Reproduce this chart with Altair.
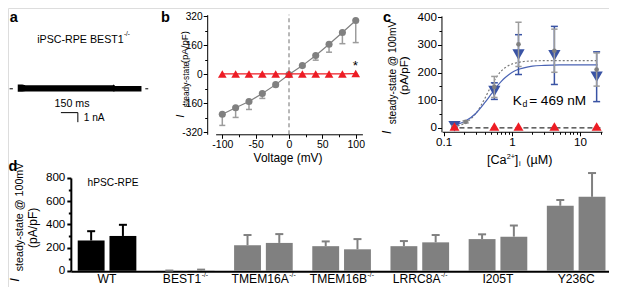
import math
import altair as alt
import pandas as pd

# ---------------- data ----------------
# a: current trace of iPSC-RPE BEST1-/- (envelope of the overlaid sweeps, nA)
a_time_ms = [0, 40, 70, 840, 850, 862, 1095]
a_upper_nA = [0.44, 0.44, 0.38, 0.38, 0.46, 0.28, 0.28]
a_lower_nA = [-0.30, -0.30, -0.28, -0.28, -0.32, -0.28, -0.28]
a_zero_start_ms = [-72, 1129]
a_zero_end_ms = [-43, 1155]
a_scalebar_ms = [382, 532, 532]
a_scalebar_nA = [-2.5, -2.5, -3.5]

# b: I-V relation (pA/pF)
b_voltage = [-100, -80, -60, -40, -20, 0, 20, 40, 60, 80, 100]
b_wt = [-219, -184, -149, -105, -56, 0, 49, 105, 167, 232, 298]
b_wt_err_end = [-281, -237, -193, -132, -62, 0, 42, 79, 123, 170, 176]
b_ko = [3, 3, 3, 3, 3, 3, 3, 3, 3, 3, 5]
b_x_ticks = [-100, -50, 0, 50, 100]
b_x_minor = [-75, -25, 25, 75]
b_y_ticks = [-320, -160, 0, 160, 320]
b_y_minor = [-240, -80, 80, 240]

# c: Ca2+ dependence (pA/pF)
c_ca = [0.144, 0.553, 1.25, 4.2, 17.5]
c_blue = [6, 133, 265, 262, 185]
c_blue_err = [4, 30, 72, 105, 90]
c_gray_ca = [0.144, 0.21, 0.553, 1.25, 4.2, 17.5]
c_gray = [5, 22, 148, 302, 279, 211]
c_gray_err = [3, 4, 38, 80, 78, 60]
c_red = [5, 5, 5, 5, 5]
c_fit_ca = [0.14, 0.2, 0.3, 0.4, 0.5, 0.6, 0.7, 0.8, 1.0, 1.2, 1.5, 2, 3, 5, 10, 18]
c_fit_blue = [9, 22, 54, 91, 123, 149, 168, 182, 200, 210, 217, 223, 226, 228, 228, 228]
c_fit_gray = [5, 16, 54, 106, 153, 185, 206, 218, 231, 236, 240, 242, 243, 243, 243, 243]
c_zero_ca = [0.13, 20]
c_zero_val = [0, 0]
c_x_ticks = [0.1, 1, 10]
c_x_minor = [0.2, 0.3, 0.4, 0.5, 0.6, 0.7, 0.8, 0.9, 2, 3, 4, 5, 6, 7, 8, 9, 20]
c_y_ticks = [0, 100, 200, 300, 400]
c_y_minor = [50, 150, 250, 350]

# d: steady-state current at 100 mV (two lines per genotype)
d_groups = ["WT", "BEST1", "TMEM16A", "TMEM16B", "LRRC8A", "I205T", "Y236C"]
d_sup = ["", "-/-", "-/-", "-/-", "-/-", "", ""]
d_val1 = [261, 1, 220, 212, 212, 273, 560]
d_up1 = [341, 2, 308, 253, 256, 314, 610]
d_val2 = [300, 2, 240, 185, 245, 294, 637]
d_up2 = [396, 10, 316, 273, 308, 390, 842]
d_y_ticks = [0, 200, 400, 600, 800]
d_y_minor = [100, 300, 500, 700]

# ---------------- layout helpers ----------------
W, H = 601, 279
SX = W / 617.0
SY = H / 292.5
FS = 0.97
FONT = "Liberation Sans"
GRAY = "#808080"
GRAY_ERR = "#9c9c9c"
RED = "#ed1c24"
BLUE = "#3953a4"
BLUE_FIT = "#4a63b4"
CAP = "M-1,0L1,0"
ONE = pd.DataFrame({"k": [0]})


def X(r):
    return round(r * SX, 2)


def Y(r):
    return round((r - 2.0) * SY, 2)


def txt(s, x, y, size, align="left", baseline="alphabetic", angle=0,
        style="normal", weight="normal", color="black"):
    kw = dict(text=s, font=FONT, fontSize=round(size * FS, 2), align=align,
              baseline=baseline, fontStyle=style, fontWeight=weight, color=color)
    if angle:
        kw["angle"] = angle
    return alt.Chart(ONE).mark_text(**kw).encode(x=alt.value(X(x)), y=alt.value(Y(y)))


def axis(orient, offset, values, size, **kw):
    base = dict(orient=orient, offset=offset, values=values, grid=False, title=None,
                domainColor="black", tickColor="black", labelColor="black",
                labelFont=FONT, labelFontSize=round(size * FS, 2), labelFlush=False,
                labelOverlap=False, labelExpr="datum.value + ''", tickSize=4,
                tickWidth=1, domainWidth=1, labelPadding=1)
    base.update(kw)
    return alt.Axis(**base)


def minor(orient, offset, values, size=2.5, width=1):
    return alt.Axis(orient=orient, offset=offset, values=values, grid=False, title=None,
                    labels=False, domain=False, tickColor="black", tickSize=size,
                    tickWidth=width)


# ---------------- panel a ----------------
a_ppms = 17.4 / 150.0
a_xs = alt.Scale(domain=[-100, 1200], range=[X(10 - 100 * a_ppms), X(10 + 1200 * a_ppms)])
a_ys = alt.Scale(domain=[-5, 5], range=[Y(86.7 + 50), Y(86.7 - 50)])

a_band = alt.Chart(pd.DataFrame({"t": a_time_ms, "hi": a_upper_nA, "lo": a_lower_nA})).mark_area(
    color="black", opacity=1).encode(
    x=alt.X("t:Q", scale=a_xs, axis=None),
    y=alt.Y("hi:Q", scale=a_ys, axis=None),
    y2="lo:Q")
a_zero = alt.Chart(pd.DataFrame({"t0": a_zero_start_ms, "t1": a_zero_end_ms, "i": [0, 0]})).mark_rule(
    color="black", strokeWidth=1).encode(
    x=alt.X("t0:Q", scale=a_xs, axis=None), x2="t1:Q",
    y=alt.Y("i:Q", scale=a_ys, axis=None))
a_bar = alt.Chart(pd.DataFrame({"t": a_scalebar_ms, "i": a_scalebar_nA, "o": [0, 1, 2]})).mark_line(
    color="black", strokeWidth=1).encode(
    x=alt.X("t:Q", scale=a_xs, axis=None),
    y=alt.Y("i:Q", scale=a_ys, axis=None), order="o:Q")
panel_a = alt.layer(a_band, a_zero, a_bar)

# ---------------- panel b ----------------
b_xs = alt.Scale(domain=[-110, 110], range=[X(288.5 - 110 * 0.685), X(288.5 + 110 * 0.685)])
b_ys = alt.Scale(domain=[-330, 330], range=[Y(71.7 + 330 * 0.19), Y(71.7 - 330 * 0.19)])
b_xoff = round(Y(71.7 + 330 * 0.19) - H, 2)
b_yoff = -X(204.5)
b_df = pd.DataFrame({"v": b_voltage, "wt": b_wt, "end": b_wt_err_end, "ko": b_ko})
bx = alt.X("v:Q", scale=b_xs, axis=None)

b_zero = alt.Chart(pd.DataFrame({"v": [0], "lo": [-330], "hi": [330]})).mark_rule(
    color="#707070", strokeDash=[4, 3], strokeWidth=1).encode(
    x=alt.X("v:Q", scale=b_xs, axis=axis("bottom", b_xoff, b_x_ticks, 10.8)),
    y=alt.Y("lo:Q", scale=b_ys, axis=axis("left", b_yoff, b_y_ticks, 10.5)),
    y2="hi:Q")
b_err = alt.Chart(b_df).mark_rule(color=GRAY_ERR, strokeWidth=1.5).encode(
    x=bx, y=alt.Y("wt:Q", scale=b_ys, axis=None), y2="end:Q")
b_cap = alt.Chart(b_df).mark_point(shape=CAP, size=36, filled=False, strokeWidth=1.5,
                                   color=GRAY_ERR, opacity=1).encode(
    x=bx, y=alt.Y("end:Q", scale=b_ys, axis=None))
b_line = alt.Chart(b_df).mark_line(color=GRAY, strokeWidth=1.2).encode(
    x=bx, y=alt.Y("wt:Q", scale=b_ys, axis=None))
b_pts = alt.Chart(b_df).mark_circle(color=GRAY, size=50, opacity=1).encode(
    x=bx, y=alt.Y("wt:Q", scale=b_ys, axis=None))
b_red_line = alt.Chart(b_df).mark_line(color=RED, strokeWidth=1.2).encode(
    x=alt.X("v:Q", scale=b_xs, axis=minor("bottom", b_xoff, b_x_minor)),
    y=alt.Y("ko:Q", scale=b_ys, axis=minor("left", b_yoff, b_y_minor)))
b_red = alt.Chart(b_df).mark_point(shape="triangle-up", size=75, filled=True, color=RED,
                                   opacity=1).encode(
    x=bx, y=alt.Y("ko:Q", scale=b_ys, axis=None))
panel_b = alt.layer(b_zero, b_err, b_cap, b_line, b_pts, b_red_line, b_red).resolve_axis(
    x="independent", y="independent")

# ---------------- panel c ----------------
def cpx(v):
    return 517.3 + 70.0 * math.log10(v)


c_xs = alt.Scale(type="log", domain=[0.095, 21], range=[X(cpx(0.095)), X(cpx(21))])
c_ys = alt.Scale(domain=[-14, 405], range=[Y(127.7 + 14 * 0.29), Y(127.7 - 405 * 0.29)])
c_xoff = round(Y(127.7 + 14 * 0.29) - H, 2)
c_yoff = -X(445)
cx = alt.X("ca:Q", scale=c_xs, axis=None)

c_zero = alt.Chart(pd.DataFrame({"ca": c_zero_ca, "val": c_zero_val})).mark_line(
    color="black", strokeDash=[5, 3], strokeWidth=1).encode(
    x=alt.X("ca:Q", scale=c_xs, axis=axis("bottom", c_xoff, c_x_ticks, 12)),
    y=alt.Y("val:Q", scale=c_ys, axis=axis("left", c_yoff, c_y_ticks, 12)))
fit_df = pd.DataFrame({"ca": c_fit_ca, "blue": c_fit_blue, "gray": c_fit_gray})
c_fit_g = alt.Chart(fit_df).mark_line(color="#7a7a7a", strokeDash=[2, 2], strokeWidth=1.2,
                                      interpolate="monotone").encode(
    x=alt.X("ca:Q", scale=c_xs, axis=minor("bottom", c_xoff, c_x_minor)),
    y=alt.Y("gray:Q", scale=c_ys, axis=minor("left", c_yoff, c_y_minor)))
c_fit_b = alt.Chart(fit_df).mark_line(color=BLUE_FIT, strokeWidth=1.2,
                                      interpolate="monotone").encode(
    x=cx, y=alt.Y("blue:Q", scale=c_ys, axis=None))

blue_df = pd.DataFrame({"ca": c_ca, "m": c_blue, "e": c_blue_err})
gray_df = pd.DataFrame({"ca": c_gray_ca, "m": c_gray, "e": c_gray_err})


def errlayers(df, color, width, cap):
    base = alt.Chart(df).transform_calculate(lo="datum.m - datum.e", hi="datum.m + datum.e")
    rule = base.mark_rule(color=color, strokeWidth=width).encode(
        x=cx, y=alt.Y("lo:Q", scale=c_ys, axis=None), y2="hi:Q")
    c1 = base.mark_point(shape=CAP, size=cap, filled=False, strokeWidth=width, color=color,
                         opacity=1).encode(x=cx, y=alt.Y("lo:Q", scale=c_ys, axis=None))
    c2 = base.mark_point(shape=CAP, size=cap, filled=False, strokeWidth=width, color=color,
                         opacity=1).encode(x=cx, y=alt.Y("hi:Q", scale=c_ys, axis=None))
    return [rule, c1, c2]


c_blue_pts = alt.Chart(blue_df).mark_point(shape="triangle-down", size=150, filled=True,
                                           color=BLUE, opacity=1).encode(
    x=cx, y=alt.Y("m:Q", scale=c_ys, axis=None))
c_gray_pts = alt.Chart(gray_df).mark_circle(color=GRAY, size=22, opacity=1).encode(
    x=cx, y=alt.Y("m:Q", scale=c_ys, axis=None))
c_red_pts = alt.Chart(pd.DataFrame({"ca": c_ca, "m": c_red})).mark_point(
    shape="triangle-up", size=100, filled=True, color=RED, opacity=1).encode(
    x=cx, y=alt.Y("m:Q", scale=c_ys, axis=None))
panel_c = alt.layer(
    c_zero, c_fit_g, c_fit_b,
    *errlayers(blue_df, BLUE, 1.5, 49), c_blue_pts,
    *errlayers(gray_df, GRAY_ERR, 1.5, 40), c_gray_pts,
    c_red_pts).resolve_axis(x="independent", y="independent")

# ---------------- panel d ----------------
d_step = 80.27
d_po = 0.088
d_xs = alt.Scale(domain=d_groups, paddingInner=0.25, paddingOuter=d_po,
                 range=[X(64.5), X(64.5 + d_step * (7 - 0.25 + 2 * d_po))])
d_xo = alt.Scale(paddingInner=0.154, paddingOuter=0)
d_ys = alt.Scale(domain=[0, 800], range=[Y(277.5), Y(277.5 - 800 * 0.1217)])
d_xoff = round(Y(278) - H, 2)
d_yoff = -X(64.5)

rows = []
for g, v1, u1, v2, u2 in zip(d_groups, d_val1, d_up1, d_val2, d_up2):
    rows.append({"group": g, "rep": "1", "v": v1, "up": u1})
    rows.append({"group": g, "rep": "2", "v": v2, "up": u2})
d_df = pd.DataFrame(rows)
d_color = alt.condition(alt.datum.group == "WT", alt.value("black"), alt.value(GRAY))
dx_ = alt.X("group:N", scale=d_xs, axis=None)
dxo = alt.XOffset("rep:N", scale=d_xo)

d_bars = alt.Chart(d_df).mark_bar().encode(
    x=alt.X("group:N", scale=d_xs,
            axis=alt.Axis(orient="bottom", offset=d_xoff, labels=False, ticks=False,
                          grid=False, title=None, domainColor="black", domainWidth=2)),
    xOffset=dxo,
    y=alt.Y("v:Q", scale=d_ys,
            axis=axis("left", d_yoff, d_y_ticks, 12, tickWidth=2, domainWidth=2,
                      labelPadding=2)),
    color=d_color)
d_err = alt.Chart(d_df).mark_rule(strokeWidth=2).encode(
    x=dx_, xOffset=dxo, y=alt.Y("v:Q", scale=d_ys, axis=None), y2="up:Q", color=d_color)
d_cap = alt.Chart(d_df).mark_point(shape=CAP, size=64, filled=False, strokeWidth=2,
                                   opacity=1).encode(
    x=dx_, xOffset=dxo,
    y=alt.Y("up:Q", scale=d_ys, axis=minor("left", d_yoff, d_y_minor, 2.5, 2)),
    color=d_color)

AW = {"A": .667, "B": .667, "C": .722, "E": .667, "I": .278, "L": .556, "M": .833,
      "R": .722, "S": .667, "T": .611, "W": .944, "Y": .667, "-": .333, "/": .278}


def tw(s, size):
    return sum(AW.get(ch, .556) for ch in s) * size


LBL, SUP = 12.5 * FS, 7.0 * FS
d_labels = []
for g, s in zip(d_groups, d_sup):
    w_main, w_sup = tw(g, LBL), tw(s, SUP)
    gdf = pd.DataFrame({"group": [g]})
    d_labels.append(alt.Chart(gdf).mark_text(
        text=g, font=FONT, fontSize=LBL, align="center", baseline="alphabetic",
        dx=round(-w_sup / 2, 2), color="black").encode(x=dx_, y=alt.value(Y(290.5))))
    if s:
        d_labels.append(alt.Chart(gdf).mark_text(
            text=s, font=FONT, fontSize=SUP, align="left", baseline="alphabetic",
            dx=round(w_main / 2 - w_sup / 2 + 0.5, 2), color="black").encode(
            x=dx_, y=alt.value(Y(284))))

panel_d = alt.layer(d_bars, d_err, d_cap, *d_labels).resolve_axis(x="independent", y="independent")

# ---------------- text annotations ----------------
texts = [
    txt("a", 1.7, 16.5, 15, weight="bold"),
    txt("b", 157, 16.5, 15, weight="bold"),
    txt("c", 385, 16.5, 15, weight="bold"),
    txt("d", 0.5, 173.3, 15, weight="bold"),
    # a
    txt("iPSC-RPE BEST1", 30, 38.3, 11),
    txt("-/-", 119, 31.5, 6.5),
    txt("150 ms", 65.8, 106, 11, align="center"),
    txt("1 nA", 77.7, 120.5, 10.5),
    # b
    txt("I", 181, 117, 12, angle=270, style="italic"),
    txt("steady-state", 185.5, 106, 8.6, angle=270),
    txt("(pA/pF)", 184.5, 60, 10, angle=270),
    txt("Voltage (mV)", 287.5, 163.5, 12.3, align="center"),
    txt("*", 356.7, 67, 14, align="center"),
    # c
    txt("I", 393, 134, 12.5, angle=270, style="italic"),
    txt("steady-state @ 100mV", 398.5, 124, 10.5, angle=270),
    txt("(pA/pF)", 410.5, 73, 12, angle=270, align="center"),
    txt("[Ca", 491.7, 165.3, 13),
    txt("2+", 511.9, 160, 7.5),
    txt("]", 520.3, 165.3, 13),
    txt("i", 524.6, 168, 7.5),
    txt("(\u00b5M)", 532, 165.3, 13),
    txt("K", 518.3, 103.3, 14),
    txt("d", 528.3, 106.3, 9),
    txt("= 469 nM", 535, 103.3, 14),
    # d
    txt("hPSC-RPE", 81.7, 188.3, 10.5),
    txt("I", 11, 289, 13.5, angle=270, style="italic"),
    txt("steady-state @ 100mV", 15.5, 278, 11, angle=270),
    txt("(pA/pF)", 29.5, 232.5, 12.5, angle=270, align="center"),
]

chart = alt.layer(panel_a, panel_b, panel_c, panel_d, *texts).resolve_scale(
    x="independent", y="independent").properties(
    width=W, height=H, padding=0,
    autosize=alt.AutoSizeParams(type="none")).configure_view(stroke=None).configure(
    background="white", font=FONT)

chart.save("out.html", embed_options={"renderer": "svg", "actions": False})
